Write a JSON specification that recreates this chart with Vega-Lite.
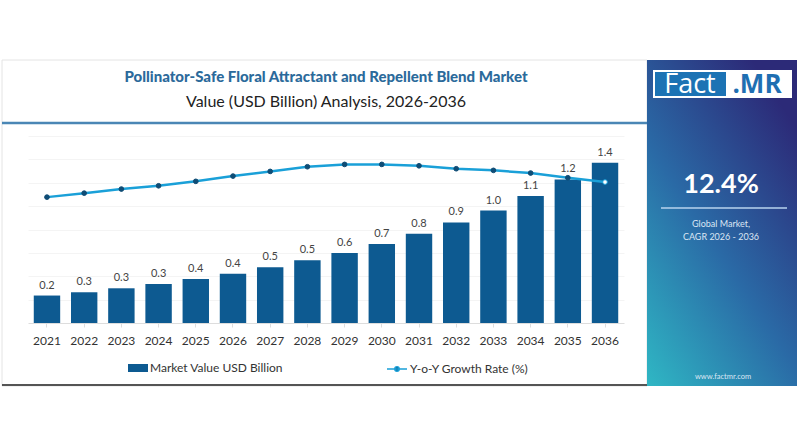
{
  "$schema": "https://vega.github.io/schema/vega-lite/v6.json",
  "autosize": {"type": "none"},
  "padding": {"left": 28, "top": 136, "right": 176, "bottom": 125},
  "width": 596,
  "height": 187,
  "background": "white",
  "config": {"view": {"stroke": null}, "font": "Lato"},
  "title": {
    "text": "Pollinator-Safe Floral Attractant and Repellent Blend Market",
    "subtitle": "Value (USD Billion) Analysis, 2026-2036",
    "anchor": "middle",
    "font": "Lato",
    "fontSize": 15,
    "fontWeight": 900,
    "color": "#2b6a9b",
    "subtitleFont": "Lato",
    "subtitleFontSize": 16,
    "subtitleColor": "#222222",
    "subtitlePadding": 9,
    "offset": -50
  },
  "resolve": {"scale": {"y": "independent"}},
  "data": {
    "values": [
      {"year": "2021", "value": 0.235, "growth": 10.77},
      {"year": "2022", "value": 0.263, "growth": 11.11},
      {"year": "2023", "value": 0.297, "growth": 11.46},
      {"year": "2024", "value": 0.334, "growth": 11.74},
      {"year": "2025", "value": 0.377, "growth": 12.12},
      {"year": "2026", "value": 0.422, "growth": 12.57},
      {"year": "2027", "value": 0.477, "growth": 12.97},
      {"year": "2028", "value": 0.537, "growth": 13.37},
      {"year": "2029", "value": 0.6, "growth": 13.57},
      {"year": "2030", "value": 0.677, "growth": 13.57},
      {"year": "2031", "value": 0.763, "growth": 13.45},
      {"year": "2032", "value": 0.86, "growth": 13.2},
      {"year": "2033", "value": 0.962, "growth": 13.06},
      {"year": "2034", "value": 1.086, "growth": 12.83},
      {"year": "2035", "value": 1.228, "growth": 12.43},
      {"year": "2036", "value": 1.371, "growth": 12.06}
    ]
  },
  "encoding": {
    "x": {
      "field": "year",
      "type": "ordinal",
      "scale": {"paddingInner": 0.29, "paddingOuter": 0.155},
      "axis": {
        "title": null,
        "labelAngle": 0,
        "labelFont": "Lato",
        "labelFontSize": 12,
        "labelColor": "#333333",
        "domainColor": "#dddddd",
        "tickColor": "#dddddd",
        "tickSize": 4,
        "labelPadding": 8,
        "zindex": 1
      }
    }
  },
  "layer": [
    {
      "data": {"values": [{}]},
      "mark": {"type": "rect", "fill": null, "fillOpacity": 0, "stroke": "#e4e4e4", "strokeWidth": 1},
      "encoding": {"x": {"value": -26}, "x2": {"value": 619}, "y": {"value": -76}, "y2": {"value": 250}}
    },
    {
      "data": {"values": [{}]},
      "mark": {"type": "rule", "stroke": "#555555", "strokeWidth": 2},
      "encoding": {"x": {"value": -26}, "x2": {"value": 619}, "y": {"value": 249}}
    },
    {
      "data": {"values": [{}]},
      "mark": {"type": "rule", "stroke": "#4a86b5", "strokeWidth": 2.5},
      "encoding": {"x": {"value": -26}, "x2": {"value": 619}, "y": {"value": -13}}
    },
    {
      "mark": {"type": "bar", "color": "#0d5a91"},
      "encoding": {
        "y": {
          "field": "value",
          "type": "quantitative",
          "scale": {"domain": [0, 1.6]},
          "axis": {
            "title": null,
            "labels": false,
            "ticks": false,
            "domain": false,
            "grid": true,
            "gridColor": "#f4f4f4",
            "values": [0.2, 0.4, 0.6, 0.8, 1.0, 1.2, 1.4, 1.6]
          }
        },
        "fill": {
          "datum": "Market Value USD Billion",
          "scale": {"range": ["#0d5a91"]},
          "legend": {
            "title": null,
            "orient": "none",
            "legendX": 100,
            "legendY": 222,
            "symbolType": "M-1,-0.4H1V0.4H-1Z",
            "symbolSize": 400,
            "symbolStrokeWidth": 0,
            "labelFont": "Lato",
            "labelFontSize": 12,
            "labelColor": "#333333",
            "labelOffset": 2
          }
        }
      }
    },
    {
      "mark": {"type": "text", "baseline": "bottom", "dy": -5, "font": "Lato", "fontSize": 11, "color": "#444444"},
      "encoding": {
        "y": {"field": "value", "type": "quantitative", "scale": {"domain": [0, 1.6]}, "axis": null},
        "text": {"field": "value", "type": "quantitative", "format": ".1f"}
      }
    },
    {
      "mark": {"type": "line", "strokeWidth": 2.5},
      "encoding": {
        "y": {"field": "growth", "type": "quantitative", "scale": {"domain": [0, 16]}, "axis": null},
        "stroke": {
          "datum": "Y-o-Y Growth Rate (%)",
          "scale": {"range": ["#1aa0d8"]},
          "legend": {
            "title": null,
            "orient": "none",
            "legendX": 358,
            "legendY": 222,
            "symbolType": "M-1,0H1M-0.22,0A0.22,0.22,0,1,1,0.22,0A0.22,0.22,0,1,1,-0.22,0Z",
            "symbolSize": 400,
            "symbolStrokeWidth": 1.5,
            "symbolFillColor": "#0f4c75",
            "labelFont": "Lato",
            "labelFontSize": 12,
            "labelColor": "#333333",
            "labelOffset": 2
          }
        }
      }
    },
    {
      "mark": {"type": "point", "filled": true, "size": 22, "opacity": 1},
      "encoding": {
        "y": {"field": "growth", "type": "quantitative", "scale": {"domain": [0, 16]}, "axis": null},
        "color": {"condition": {"test": "datum.year === '2036'", "value": "#ffffff"}, "value": "#0f4c75"},
        "stroke": {"condition": {"test": "datum.year === '2036'", "value": "#1aa0d8"}, "value": "#0f4c75"},
        "strokeWidth": {"value": 1}
      }
    },
    {
      "data": {"values": [{}]},
      "mark": {
        "type": "rect",
        "color": {
          "gradient": "linear",
          "x1": 0, "y1": 1, "x2": 0.7, "y2": 0,
          "stops": [
            {"offset": 0, "color": "#2fb7c4"},
            {"offset": 0.5, "color": "#2a6aa6"},
            {"offset": 1, "color": "#2c2a78"}
          ]
        }
      },
      "encoding": {"x": {"value": 619}, "x2": {"value": 769}, "y": {"value": -76}, "y2": {"value": 250}}
    },
    {
      "data": {"values": [{}]},
      "mark": {"type": "rect", "color": "#ffffff"},
      "encoding": {"x": {"value": 625}, "x2": {"value": 764}, "y": {"value": -66}, "y2": {"value": -38}}
    },
    {
      "data": {"values": [{}]},
      "mark": {"type": "rect", "color": "#1c73b4"},
      "encoding": {"x": {"value": 627}, "x2": {"value": 698}, "y": {"value": -64}, "y2": {"value": -40}}
    },
    {
      "data": {"values": [{}]},
      "mark": {"type": "text", "text": "Fact", "font": "Open Sans", "fontSize": 27, "color": "#ffffff", "align": "center", "baseline": "middle"},
      "encoding": {"x": {"value": 662}, "y": {"value": -51}}
    },
    {
      "data": {"values": [{}]},
      "mark": {"type": "text", "text": ".MR", "font": "Open Sans", "fontWeight": "bold", "fontSize": 26, "color": "#1f6fb2", "align": "center", "baseline": "middle"},
      "encoding": {"x": {"value": 729}, "y": {"value": -51}}
    },
    {
      "data": {"values": [{}]},
      "mark": {"type": "text", "text": "12.4%", "font": "Lato", "fontWeight": "bold", "fontSize": 27, "color": "#ffffff", "align": "center", "baseline": "middle"},
      "encoding": {"x": {"value": 693}, "y": {"value": 49}}
    },
    {
      "data": {"values": [{}]},
      "mark": {"type": "rule", "stroke": "#b9d3ee", "strokeWidth": 1.5},
      "encoding": {"x": {"value": 633}, "x2": {"value": 759}, "y": {"value": 72}}
    },
    {
      "data": {"values": [{}]},
      "mark": {"type": "text", "text": ["Global Market,", "CAGR 2026 - 2036"], "lineHeight": 13, "font": "Lato", "fontSize": 9, "color": "#dbe6f4", "align": "center", "baseline": "middle"},
      "encoding": {"x": {"value": 693}, "y": {"value": 88}}
    },
    {
      "data": {"values": [{}]},
      "mark": {"type": "text", "text": "www.factmr.com", "font": "Lato", "fontSize": 7.5, "color": "#dbe6f4", "align": "center", "baseline": "middle"},
      "encoding": {"x": {"value": 695}, "y": {"value": 241}}
    }
  ]
}
